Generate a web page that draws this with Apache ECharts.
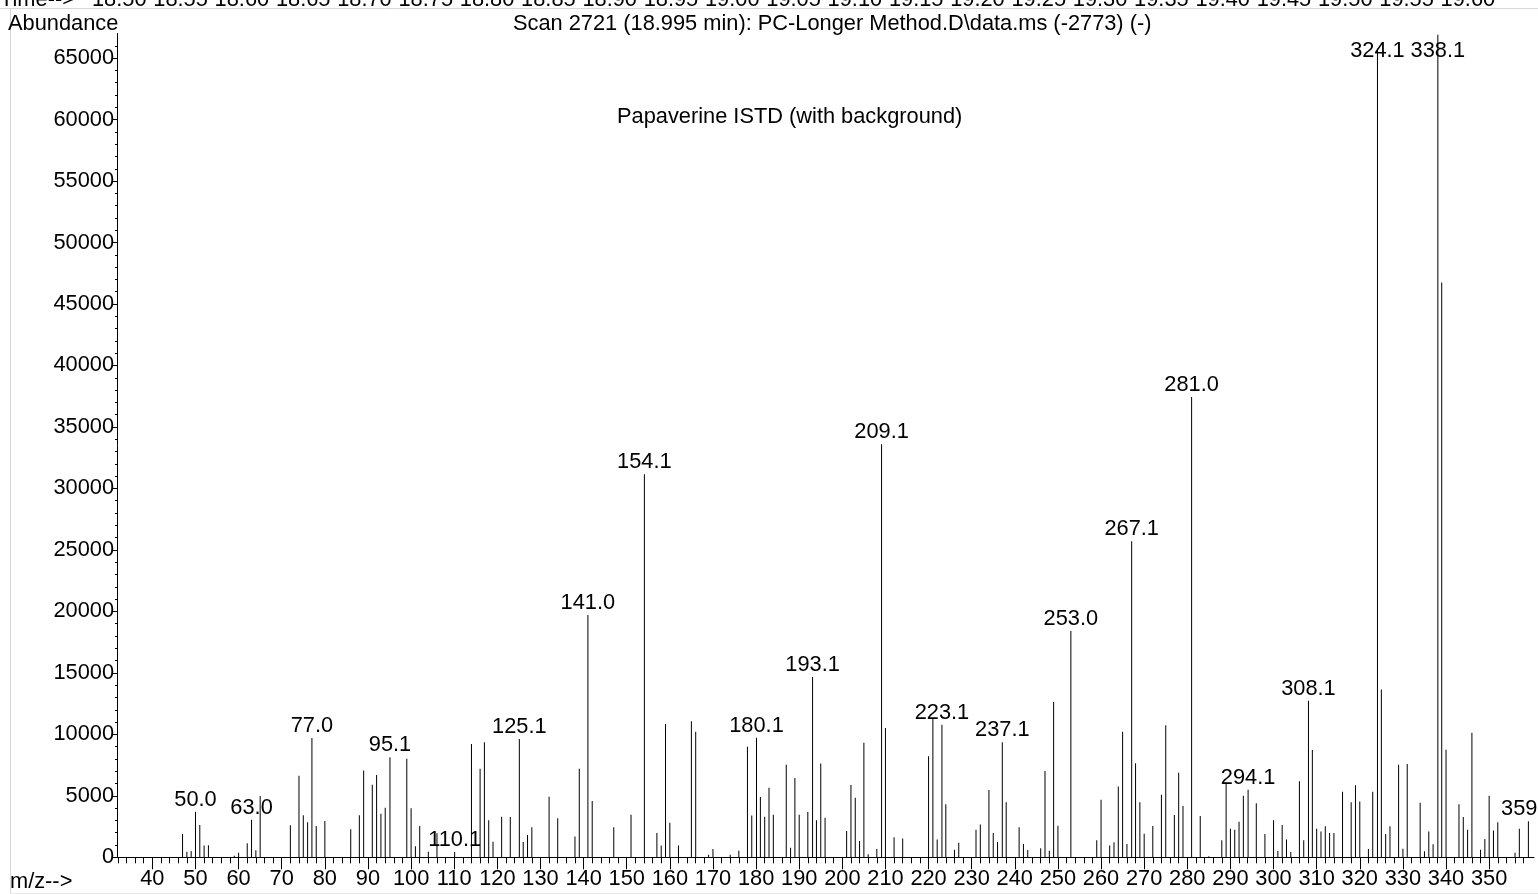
<!DOCTYPE html>
<html>
<head>
<meta charset="utf-8">
<script src="https://cdn.jsdelivr.net/npm/echarts@6/dist/echarts.min.js"></script>
<style>
html,body{margin:0;padding:0;background:#fff;}
#chart{width:1538px;height:894px;}
</style>
</head>
<body>
<div id="chart"></div>
<script>
// m/z values of each stick
const mzValues = [
  47,48,49,50.0,51,52,53,59,60,62,63.0,64,65,72,74,75,76,77.0,78,80,
  86,88,89,91,92,93,94,95.1,99,100,101,102,104,106,110.1,114,116,117,118,119,
  121,123,125.1,126,127,128,132,134,138,139,141.0,142,147,151,154.1,157,158,159,160,162,
  165,166,169,170,174,176,178,179,180.1,181,182,183,184,187,188,189,190,192,193.1,194,
  195,196,201,202,203,204,205,206,208,209.1,210,212,214,220,221,222,223.1,224,226,227,
  231,232,234,235,236,237.1,238,241,242,243,246,247,248,249,250,253.0,259,260,262,263,
  264,265,266,267.1,268,269,270,272,274,275,277,278,279,281.0,283,285,288,289,290,291,
  292,293,294.1,296,298,300,301,302,303,304,306,307,308.1,309,310,311,312,313,314,316,
  318,319,320,322,323,324.1,325,326,327,329,330,331,334,335,336,337,338.1,339,340,343,
  344,345,346,348,349,350,351,352,356,357,359.1
];
// abundance of each stick (same order)
const abundances = [
  1900,460,515,3700,2630,950,975,135,380,1140,3060,570,4990,2600,6640,3415,2845,9700,2550,2950,
  2280,3415,7050,5900,6690,3550,4040,8130,8020,3980,895,2550,460,1950,434,9210,7210,9350,3010,1270,
  3300,3280,9620,1250,1815,2440,4930,3170,1700,7210,19700,4580,2440,3470,31160,1980,950,10840,2820,950,
  11060,10220,217,680,217,540,9000,3390,9730,4900,3300,5660,3470,7530,785,6450,3470,3690,14660,3010,
  7620,3220,2140,5880,4850,1330,9320,245,680,33600,10515,1630,1520,8210,11250,1440,10790,4310,620,1190,
  2250,2660,5470,1980,1250,9350,4470,2440,1080,600,730,7020,540,12630,2570,18400,1380,4690,950,1220,
  5750,10220,1080,25700,7640,4470,1920,2550,5090,10730,3440,6880,4170,37440,3360,80,1380,6100,2330,2250,
  2900,5010,5500,4390,1900,3010,515,2630,1440,434,6180,1380,12730,8730,2330,2090,2520,1980,1980,5340,
  4470,5850,4530,680,5340,65770,13650,1900,2520,7530,705,7590,4440,490,2090,1060,66900,46750,8750,4310,
  3280,2250,10135,620,1490,5010,2170,2850,380,2330,2930
];
// labelled peaks (m/z value and its printed text)
const labelledMz = [50.0,63.0,77.0,95.1,110.1,125.1,141.0,154.1,180.1,193.1,209.1,223.1,237.1,253.0,267.1,281.0,294.1,308.1,324.1,338.1,359.1];
const labelTexts = ['50.0','63.0','77.0','95.1','110.1','125.1','141.0','154.1','180.1','193.1','209.1','223.1','237.1','253.0','267.1','281.0','294.1','308.1','324.1','338.1','359.1'];
// axis ticks
const xTickLabels = [40,50,60,70,80,90,100,110,120,130,140,150,160,170,180,190,200,210,220,230,240,250,260,270,280,290,300,310,320,330,340,350];
const yTickLabels = [0,5000,10000,15000,20000,25000,30000,35000,40000,45000,50000,55000,60000,65000];
const timeLabels = ['18.50','18.55','18.60','18.65','18.70','18.75','18.80','18.85','18.90','18.95','19.00','19.05','19.10','19.15','19.20','19.25','19.30','19.35','19.40','19.45','19.50','19.55','19.60'];

const X_MIN = 31.8, X_MAX = 360.4, Y_MAX = 67000;
const FONT = "'Liberation Sans', Arial, sans-serif";
const FS = 21.8;

const xMinor = [];
for (let v = 32; v <= 360; v += 2) if (v % 10 !== 0) xMinor.push(v);
const yMinor = [];
for (let v = 1000; v <= 66000; v += 1000) if (v % 5000 !== 0) yMinor.push(v);

const labelOffsets = {324.1: [0, 14], 338.1: [0, 28]};

const data = mzValues.map((mz, i) => {
  const li = labelledMz.indexOf(mz);
  const item = {value: [mz, abundances[i]]};
  if (li >= 0) {
    item.label = {
      show: true, position: 'top', distance: 1,
      formatter: labelTexts[li],
      offset: labelOffsets[mz] || [0, 0]
    };
  }
  return item;
});

const chart = echarts.init(document.getElementById('chart'), null, {renderer: 'canvas'});

const timeGraphics = timeLabels.map((t, i) => ({
  type: 'text', left: 92 + i * 61.3, top: -11,
  style: {text: t, font: FS + 'px ' + FONT, fill: '#000'}
}));

chart.setOption({
  animation: false,
  backgroundColor: '#fff',
  textStyle: {fontFamily: FONT},
  grid: {left: 117, right: 4, top: 33.5, bottom: 36.7, containLabel: false},
  xAxis: [{
    type: 'value', min: X_MIN, max: X_MAX, position: 'bottom',
    axisLine: {show: true, onZero: false, lineStyle: {color: '#000', width: 1}},
    axisTick: {show: true, length: 12, customValues: xTickLabels, lineStyle: {color: '#000'}},
    axisLabel: {show: true, customValues: xTickLabels, color: '#000', fontSize: FS, fontFamily: FONT, margin: 11,
      formatter: v => String(v)},
    splitLine: {show: false}
  }, {
    type: 'value', min: X_MIN, max: X_MAX, position: 'bottom', offset: 0,
    axisLine: {show: false},
    axisTick: {show: true, length: 6, customValues: xMinor, lineStyle: {color: '#000'}},
    axisLabel: {show: false},
    splitLine: {show: false}
  }],
  yAxis: [{
    type: 'value', min: 0, max: Y_MAX, position: 'left',
    axisLine: {show: true, onZero: false, lineStyle: {color: '#000', width: 1}},
    axisTick: {show: true, length: 4, customValues: yTickLabels, lineStyle: {color: '#000'}},
    axisLabel: {show: true, customValues: yTickLabels, color: '#000', fontSize: FS, fontFamily: FONT, margin: 3,
      formatter: v => String(v)},
    splitLine: {show: false}
  }, {
    type: 'value', min: 0, max: Y_MAX, position: 'left', offset: 0,
    axisLine: {show: false},
    axisTick: {show: true, length: 2, customValues: yMinor, lineStyle: {color: '#000'}},
    axisLabel: {show: false},
    splitLine: {show: false}
  }],
  series: [{
    type: 'bar', xAxisIndex: 0, yAxisIndex: 0,
    barWidth: 1,
    itemStyle: {color: '#000'},
    label: {show: false, color: '#000', fontSize: FS, fontFamily: FONT},
    data: data
  }],
  graphic: [
    {type: 'line', shape: {x1: 0, y1: 8.5, x2: 1538, y2: 8.5}, style: {stroke: '#d8d8d8', lineWidth: 1}},
    {type: 'line', shape: {x1: 10.5, y1: 8, x2: 10.5, y2: 894}, style: {stroke: '#d8d8d8', lineWidth: 1}},
    {type: 'line', shape: {x1: 10, y1: 893.5, x2: 1538, y2: 893.5}, style: {stroke: '#e8e8e8', lineWidth: 1}},
    {type: 'text', left: 0, top: -11, style: {text: 'Time-->', font: FS + 'px ' + FONT, fill: '#000'}},
    ...timeGraphics,
    {type: 'text', left: 8, top: 13, style: {text: 'Abundance', font: FS + 'px ' + FONT, fill: '#000'}},
    {type: 'text', left: 513, top: 13, style: {text: 'Scan 2721 (18.995 min): PC-Longer Method.D\\data.ms (-2773) (-)', font: FS + 'px ' + FONT, fill: '#000'}},
    {type: 'text', left: 617, top: 106, style: {text: 'Papaverine ISTD (with background)', font: FS + 'px ' + FONT, fill: '#000'}},
    {type: 'text', left: 10, top: 871, style: {text: 'm/z-->', font: FS + 'px ' + FONT, fill: '#000'}}
  ]
});
</script>
</body>
</html>
